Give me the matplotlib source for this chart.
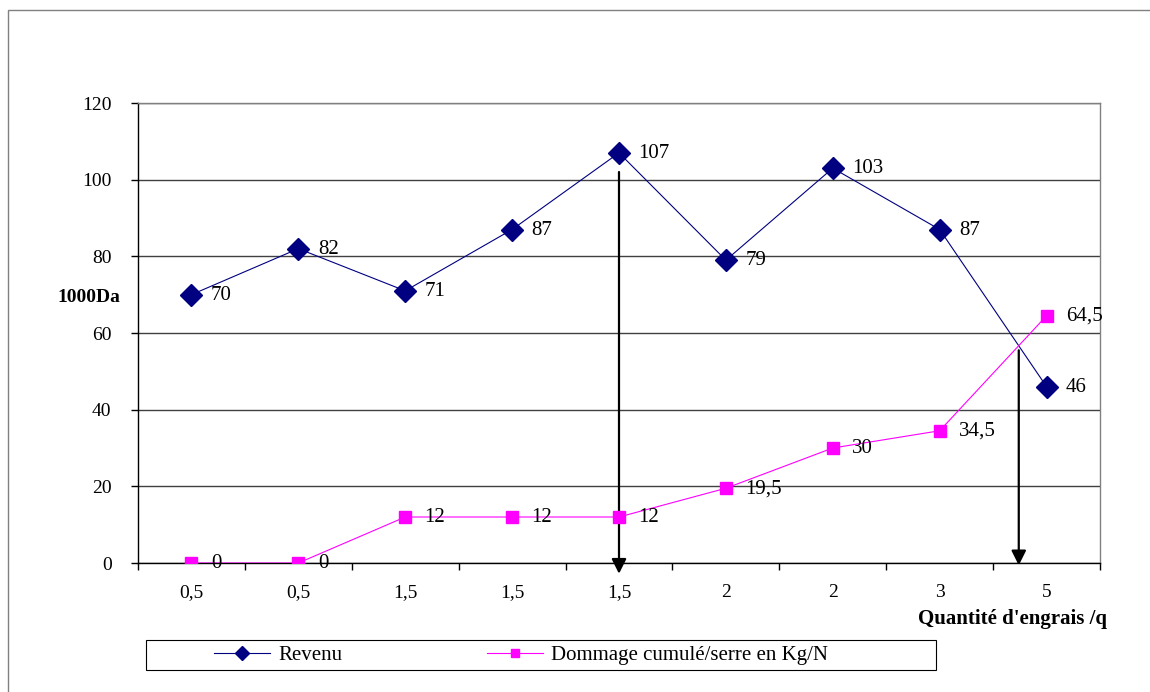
import matplotlib.pyplot as plt
from matplotlib.patches import Rectangle

plt.rcParams['font.family'] = ['Liberation Serif', 'DejaVu Serif']

# données
quantite = ["0,5", "0,5", "1,5", "1,5", "1,5", "2", "2", "3", "5"]
revenu = [70, 82, 71, 87, 107, 79, 103, 87, 46]
dommage = [0, 0, 12, 12, 12, 19.5, 30, 34.5, 64.5]
yticks = [0, 20, 40, 60, 80, 100, 120]

FS = 15
FS_TICK = 14

fig = plt.figure(figsize=(11.5, 6.92), dpi=100)
ax = fig.add_axes([138/1150, 1-563/692, 962/1150, 460/692])

x = list(range(len(quantite)))

# courbes
l1, = ax.plot(x, revenu, color="#000080", lw=0.8, marker="D", ms=11.5,
              label="Revenu", zorder=4)
l2, = ax.plot(x, dommage, color="#FF00FF", lw=0.8, marker="s", ms=8.5,
              label="Dommage cumulé/serre en Kg/N", zorder=4)

def fmt(v):
    return ("%g" % v).replace(".", ",")

for serie in (revenu, dommage):
    for xi, v in zip(x, serie):
        ax.annotate(fmt(v), (xi, v), xytext=(14, -0.5), textcoords="offset points",
                    va="center", ha="left", fontsize=FS, zorder=5,
                    annotation_clip=False)

# flèches
fleche = dict(arrowstyle="-|>", color="black", lw=1.6,
              mutation_scale=22, shrinkA=0, shrinkB=0)
ax.annotate("", xy=(4, -2.8), xytext=(4, 102), arrowprops=fleche,
            annotation_clip=False, zorder=3)
ax.annotate("", xy=(7.74, -0.6), xytext=(7.74, 55.5), arrowprops=fleche,
            annotation_clip=False, zorder=3)

# axes
ax.set_xlim(-0.5, 8.5)
ax.set_ylim(0, 120)
ax.set_yticks(yticks)
ax.set_xticks(x)
ax.set_xticklabels(quantite)
ax.set_xticks([i - 0.5 for i in range(len(quantite) + 1)], minor=True)
ax.tick_params(axis="x", which="major", length=0, pad=15, labelsize=FS_TICK)
ax.tick_params(axis="x", which="minor", length=5, direction="out", width=1)
ax.tick_params(axis="y", length=5, direction="out", width=1, pad=14, labelsize=FS_TICK)
ax.grid(axis="y", color="#404040", lw=1)
ax.set_axisbelow(True)
for s in ["top", "right"]:
    ax.spines[s].set_color("#808080")
    ax.spines[s].set_linewidth(1)
    ax.spines[s].set_zorder(2)
for s in ["left", "bottom"]:
    ax.spines[s].set_color("black")
    ax.spines[s].set_linewidth(1)
    ax.spines[s].set_zorder(2)

fig.text(57/1150, 1-297/692, "1000Da", fontweight="bold", fontsize=14,
         va="center", ha="left")
fig.text(1107/1150, 1-619/692, "Quantité d'engrais /q", fontweight="bold",
         fontsize=FS, va="center", ha="right")

# légende
fig.patches.append(Rectangle((146/1150, 1-670/692), 790/1150, 30/692,
                             transform=fig.transFigure, fill=False,
                             edgecolor="black", lw=0.8))
leg = fig.legend(handles=[l1, l2], loc="center left", ncol=2, frameon=False,
                 bbox_to_anchor=(214/1150, 1-655/692), borderpad=0,
                 borderaxespad=0, fontsize=FS, handlelength=2.7,
                 columnspacing=6.95, handletextpad=0.38, markerscale=0.6)

# cadre
fig.patches.append(Rectangle((8/1150, -0.01), 1.2, 1-10/692 + 0.01,
                             transform=fig.transFigure, fill=False,
                             edgecolor="#808080", lw=1))

plt.savefig("out.png", dpi=100)
